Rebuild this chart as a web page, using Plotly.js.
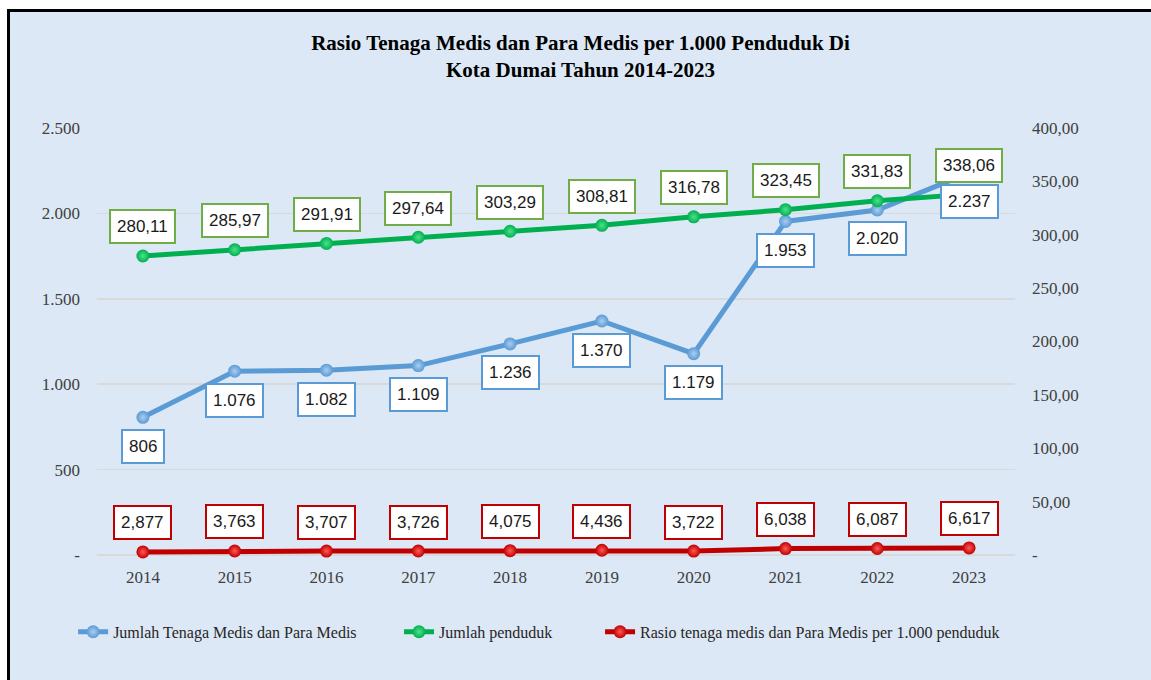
<!DOCTYPE html>
<html>
<head>
<meta charset="utf-8">
<script src="https://cdn.plot.ly/plotly-3.0.1.min.js"></script>
<style>
  html, body { margin: 0; padding: 0; background: #ffffff; width: 1151px; height: 680px; overflow: hidden; }
  #frame { position: absolute; left: 7px; top: 9px; width: 1141px; height: 668px;
           border-left: 3px solid #000; border-top: 3px solid #000; background: #dce8f5; overflow: hidden; }
  #chart { position: absolute; left: 0; top: 0; width: 1141px; height: 668px; }
</style>
</head>
<body>
<div id="frame"><div id="chart"></div></div>
<script>
// ---- data ----
const years = ['2014','2015','2016','2017','2018','2019','2020','2021','2022','2023'];
const tenagaMedis = [806, 1076, 1082, 1109, 1236, 1370, 1179, 1953, 2020, 2237];
const penduduk = [280.11, 285.97, 291.91, 297.64, 303.29, 308.81, 316.78, 323.45, 331.83, 338.06];
const rasio = [2.877, 3.763, 3.707, 3.726, 4.075, 4.436, 3.722, 6.038, 6.087, 6.617];
const leftTicks = [0, 500, 1000, 1500, 2000, 2500];
const rightTicks = [0, 50, 100, 150, 200, 250, 300, 350, 400];
const seriesNames = ['Jumlah Tenaga Medis dan Para Medis', 'Jumlah penduduk',
                     'Rasio tenaga medis dan Para Medis per 1.000 penduduk'];
const titleText = 'Rasio Tenaga Medis dan Para Medis per 1.000 Penduduk Di<br>Kota Dumai Tahun 2014-2023';

// ---- formatting (Indonesian) ----
function fmtThousands(n) { return String(Math.round(n)).replace(/\B(?=(\d{3})+(?!\d))/g, '.'); }
function fmtDec(n, d) { return n.toFixed(d).replace('.', ','); }

const BLUE = '#5b9bd5', GREEN = '#00b050', RED = '#c00000';
const SERIF = '"Liberation Serif", "DejaVu Serif", serif';
const SANS = '"Liberation Sans", Arial, sans-serif';

function lineTrace(y, name, color, light, axis, legendId) {
  return {
    x: years, y: y, name: name, type: 'scatter', mode: 'lines+markers', yaxis: axis,
    legend: legendId,
    line: { color: color, width: 5 },
    marker: { size: 13, color: color, gradient: { type: 'radial', color: light } },
    cliponaxis: false, hoverinfo: 'skip'
  };
}

const traces = [
  lineTrace(tenagaMedis, seriesNames[0], BLUE, '#a9cdf0', 'y', 'legend'),
  lineTrace(penduduk, seriesNames[1], GREEN, '#4fe08c', 'y2', 'legend2'),
  lineTrace(rasio, seriesNames[2], RED, '#ff5a5a', 'y2', 'legend3')
];

function labelAnn(idx, yv, text, yref, border, shift) {
  return {
    x: idx, y: yv, xref: 'x', yref: yref, text: text, showarrow: false,
    yshift: shift, bgcolor: '#ffffff', bordercolor: border, borderwidth: 2, borderpad: 6,
    font: { family: SANS, size: 17, color: '#1a1a1a' }
  };
}

const annotations = [];
years.forEach((yr, i) => {
  annotations.push(labelAnn(i, penduduk[i], fmtDec(penduduk[i], 2), 'y2', '#70ad47', 29));
  annotations.push(labelAnn(i, tenagaMedis[i], fmtThousands(tenagaMedis[i]), 'y', BLUE, -29));
  annotations.push(labelAnn(i, rasio[i], fmtDec(rasio[i], 3), 'y2', RED, 29));
});

function legendAt(x) {
  return {
    orientation: 'h', x: x, xanchor: 'left', y: -0.18, yanchor: 'middle',
    font: { family: SERIF, size: 16, color: '#262626' }, bgcolor: 'rgba(0,0,0,0)'
  };
}

const layout = {
  width: 1141, height: 668,
  paper_bgcolor: 'rgba(0,0,0,0)', plot_bgcolor: 'rgba(0,0,0,0)',
  margin: { l: 87, r: 136, t: 116, b: 125, pad: 0 },
  title: {
    text: titleText, x: 0.5, xanchor: 'center', y: 1 - 38 / 668, yanchor: 'middle', yref: 'container',
    font: { family: SERIF, size: 21, color: '#000000', weight: 'bold' }
  },
  xaxis: {
    type: 'category', range: [-0.5, 9.5], showgrid: false, showline: false, zeroline: false,
    ticks: '', ticklabelstandoff: 10,
    tickfont: { family: SERIF, size: 17, color: '#404040' }, fixedrange: true
  },
  yaxis: {
    range: [0, 2500], tickvals: leftTicks,
    ticktext: leftTicks.map(v => v === 0 ? '-' : fmtThousands(v)),
    showgrid: true, gridcolor: '#d9d9d9', gridwidth: 1.5,
    zeroline: true, zerolinecolor: '#d9d9d9', zerolinewidth: 1.5,
    showline: false, ticks: '', ticklabelstandoff: 16,
    tickfont: { family: SERIF, size: 17, color: '#404040' }, fixedrange: true
  },
  yaxis2: {
    range: [0, 400], overlaying: 'y', side: 'right', tickvals: rightTicks,
    ticktext: rightTicks.map(v => v === 0 ? '-' : fmtDec(v, 2)),
    showgrid: false, zeroline: false, showline: false, ticks: '', ticklabelstandoff: 16,
    tickfont: { family: SERIF, size: 17, color: '#404040' }, fixedrange: true
  },
  showlegend: true,
  legend: legendAt(-0.026),
  legend2: legendAt(0.329),
  legend3: legendAt(0.548),
  annotations: annotations,
  hovermode: false
};

Plotly.newPlot('chart', traces, layout, { displayModeBar: false, staticPlot: true });
</script>
</body>
</html>
